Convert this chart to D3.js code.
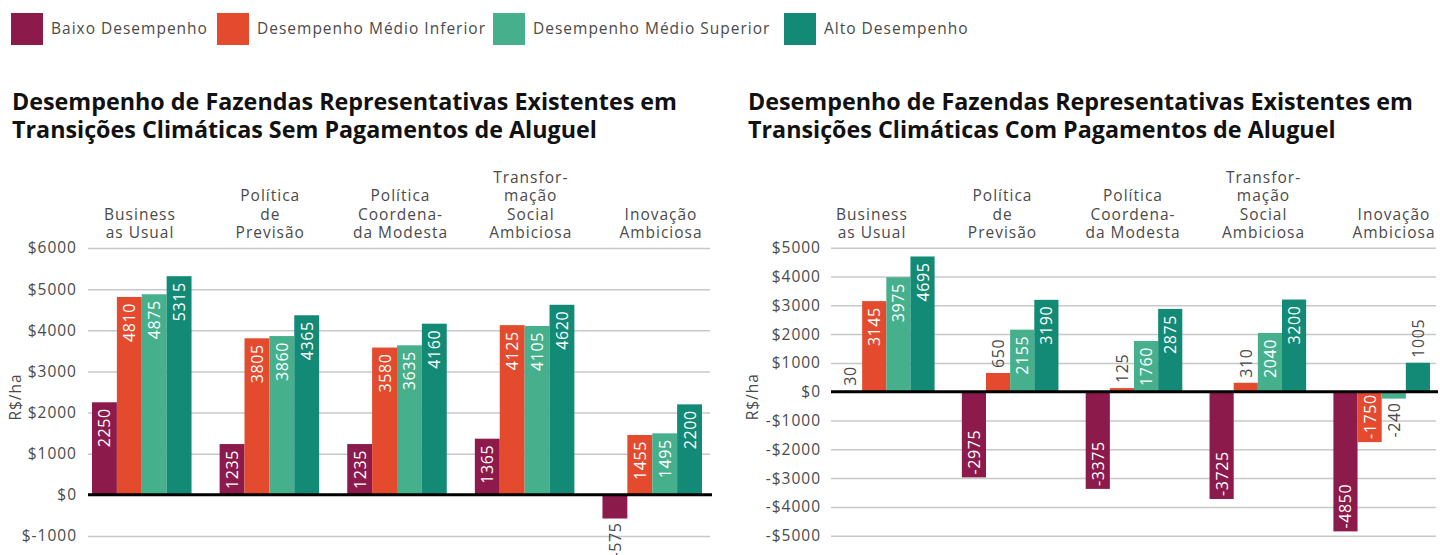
<!DOCTYPE html>
<html>
<head>
<meta charset="utf-8">
<script src="https://cdn.jsdelivr.net/npm/d3@7"></script>
<style>
  body { margin: 0; background: #fff; }
  svg { display: block; }
  text { font-family: "Open Sans", "Noto Sans", sans-serif; }
</style>
</head>
<body>
<svg id="chart" width="1440" height="555"></svg>
<script>
// Scenario categories (line breaks as displayed above each group)
const categories = [
  ["Business", "as Usual"],
  ["Política", "de", "Previsão"],
  ["Política", "Coordena-", "da Modesta"],
  ["Transfor-", "mação", "Social", "Ambiciosa"],
  ["Inovação", "Ambiciosa"]
];
const seriesNames = ["Baixo Desempenho", "Desempenho Médio Inferior", "Desempenho Médio Superior", "Alto Desempenho"];
const seriesColors = ["#8c1a4b", "#e34a2e", "#46b08c", "#138a75"];

// R$/ha per scenario, without rent payments
const semBaixo    = [2250, 1235, 1235, 1365, -575];
const semInferior = [4810, 3805, 3580, 4125, 1455];
const semSuperior = [4875, 3860, 3635, 4105, 1495];
const semAlto     = [5315, 4365, 4160, 4620, 2200];

// R$/ha per scenario, with rent payments
const comBaixo    = [30, -2975, -3375, -3725, -4850];
const comInferior = [3145, 650, 125, 310, -1750];
const comSuperior = [3975, 2155, 1760, 2040, -240];
const comAlto     = [4695, 3190, 2875, 3200, 1005];

const semTicks = [-1000, 0, 1000, 2000, 3000, 4000, 5000, 6000];
const comTicks = [-5000, -4000, -3000, -2000, -1000, 0, 1000, 2000, 3000, 4000, 5000];

const svg = d3.select("#chart");
const TEXT = "#4a4a4a";

// Legend
const legendX = [11, 217, 493, 784];
const legend = svg.append("g");
seriesNames.forEach((name, i) => {
  const g = legend.append("g").attr("transform", `translate(${legendX[i]},13)`);
  g.append("rect").attr("width", 32).attr("height", 32).attr("fill", seriesColors[i]);
  g.append("text").attr("x", 40).attr("y", 16).attr("dy", "0.35em")
    .attr("font-size", 15.5).attr("fill", TEXT).attr("letter-spacing", 1).text(name);
});

function drawPanel(opts) {
  const g = svg.append("g");
  const { left, right, top, bottom, barLeft, barRight, labelRange, domain, ticks, fmt, title, series, titleX, tickRight, axisTitleX } = opts;

  // Title
  const t = g.append("text").attr("x", titleX).attr("y", 110)
    .attr("font-family", "Roboto, sans-serif").attr("font-weight", 700)
    .attr("font-size", 23.3).attr("fill", "#111");
  t.append("tspan").attr("x", titleX).text(title[0]);
  t.append("tspan").attr("x", titleX).attr("dy", 28).text(title[1]);

  const y = d3.scaleLinear().domain(domain).range([bottom, top]);
  const x0 = d3.scaleBand().domain(d3.range(categories.length)).range([barLeft, barRight]).paddingInner(0.22).paddingOuter(0);
  const x1 = d3.scaleBand().domain(d3.range(series.length)).range([0, x0.bandwidth()]);
  const xl = d3.scalePoint().domain(d3.range(categories.length)).range(labelRange);

  // Gridlines and tick labels
  const axis = d3.axisLeft(y).tickValues(ticks).tickSize(-(right - left)).tickFormat(fmt).tickPadding(0);
  const ag = g.append("g").attr("transform", `translate(${left},0)`).call(axis);
  ag.select(".domain").remove();
  ag.selectAll(".tick line").attr("stroke", "#c8c8c8").attr("stroke-width", 1.5);
  ag.selectAll(".tick text").attr("x", tickRight - left).attr("font-size", 15.5).attr("fill", TEXT)
    .attr("font-family", "'Open Sans', sans-serif").attr("letter-spacing", 1);

  // Axis title
  g.append("text").attr("transform", `translate(${axisTitleX},${(y(domain[0]) + y(domain[1])) / 2 + 5}) rotate(-90)`)
    .attr("text-anchor", "middle").attr("font-size", 15.5).attr("fill", TEXT).attr("letter-spacing", 1).text("R$/ha");

  // Category labels above each group
  categories.forEach((lines, i) => {
    const cx = xl(i);
    const txt = g.append("text").attr("text-anchor", "middle").attr("font-size", 15.5).attr("fill", TEXT).attr("letter-spacing", 1);
    lines.forEach((ln, j) => {
      txt.append("tspan").attr("x", cx).attr("y", 238 - (lines.length - 1 - j) * 18.3).text(ln);
    });
  });

  // Bars with rotated value labels
  series.forEach((vals, s) => {
    vals.forEach((v, i) => {
      const bx = x0(i) + x1(s);
      const y0 = y(0), yv = y(v);
      const h = Math.abs(yv - y0);
      g.append("rect").attr("x", bx).attr("y", Math.min(y0, yv)).attr("width", x1.bandwidth()).attr("height", h)
        .attr("fill", seriesColors[s]);
      const cx = bx + x1.bandwidth() / 2 + 6;
      const lbl = g.append("text").attr("font-size", 16).attr("letter-spacing", 0.6).text(v);
      const len = lbl.node().getComputedTextLength();
      const inside = h > len + 3;
      let anchor, ty;
      if (v >= 0) {
        if (inside) { anchor = "end"; ty = yv + 6; }
        else { anchor = "start"; ty = yv - 5; }
      } else {
        if (inside) { anchor = "start"; ty = yv - 3; }
        else { anchor = "end"; ty = yv + 4; }
      }
      lbl.attr("text-anchor", anchor).attr("fill", inside ? "#fff" : TEXT)
        .attr("transform", `translate(${cx},${ty}) rotate(-90)`);
    });
  });

  // Zero baseline
  g.append("line").attr("x1", left).attr("x2", right + 2).attr("y1", y(0)).attr("y2", y(0))
    .attr("stroke", "#000").attr("stroke-width", 3);
}

drawPanel({
  left: 88, right: 710, top: 248, bottom: 536, barLeft: 92, barRight: 702, labelRange: [140, 661],
  domain: [-1000, 6000], ticks: semTicks,
  fmt: d => "$" + d,
  title: ["Desempenho de Fazendas Representativas Existentes em", "Transições Climáticas Sem Pagamentos de Aluguel"],
  series: [semBaixo, semInferior, semSuperior, semAlto],
  titleX: 12, tickRight: 77, axisTitleX: 21
});

drawPanel({
  left: 831, right: 1436, top: 247.7, bottom: 535.7, barLeft: 838, barRight: 1430, labelRange: [872, 1394],
  domain: [-5000, 5000], ticks: comTicks,
  fmt: d => d < 0 ? "-$" + (-d) : "$" + d,
  title: ["Desempenho de Fazendas Representativas Existentes em", "Transições Climáticas Com Pagamentos de Aluguel"],
  series: [comBaixo, comInferior, comSuperior, comAlto],
  titleX: 748, tickRight: 821, axisTitleX: 758
});
</script>
</body>
</html>
